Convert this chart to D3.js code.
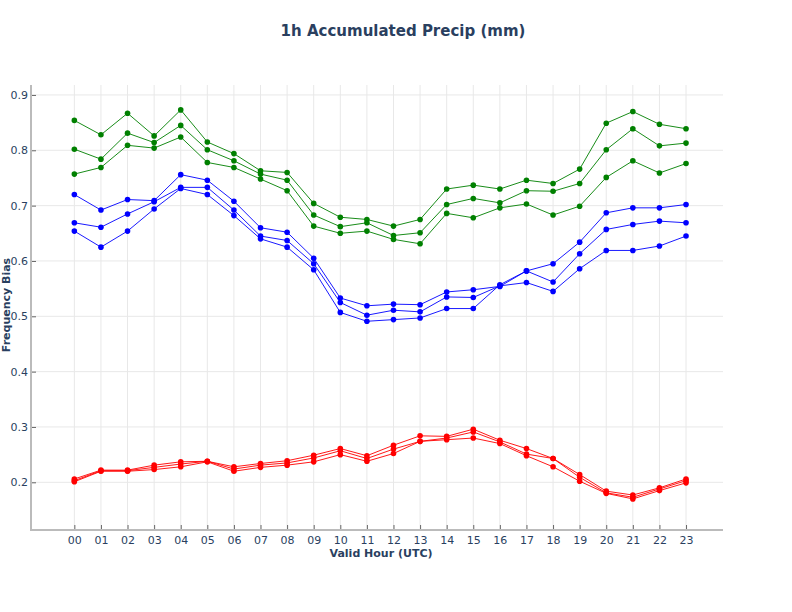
<!DOCTYPE html>
<html>
<head>
<meta charset="utf-8">
<script src="https://cdn.jsdelivr.net/npm/d3@7"></script>
<style>
  html, body { margin: 0; padding: 0; background: #fff; }
  svg { display: block; font-family: "DejaVu Sans", Verdana, sans-serif; }
</style>
</head>
<body>
<svg id="chart" width="792" height="612"></svg>
<script>
const hours = ["00","01","02","03","04","05","06","07","08","09","10","11","12","13","14","15","16","17","18","19","20","21","22","23"];
const yTicks = [0.2, 0.3, 0.4, 0.5, 0.6, 0.7, 0.8, 0.9];

const green1 = [0.854,0.828,0.867,0.826,0.873,0.815,0.794,0.763,0.760,0.704,0.679,0.675,0.663,0.675,0.730,0.737,0.730,0.746,0.740,0.766,0.849,0.870,0.847,0.839];
const green2 = [0.802,0.784,0.831,0.814,0.845,0.801,0.781,0.757,0.746,0.683,0.662,0.669,0.646,0.651,0.702,0.713,0.705,0.727,0.726,0.740,0.801,0.839,0.808,0.813];
const green3 = [0.757,0.769,0.809,0.804,0.824,0.778,0.769,0.748,0.727,0.663,0.650,0.654,0.639,0.631,0.686,0.678,0.696,0.703,0.683,0.699,0.751,0.781,0.759,0.776];

const blue1 = [0.720,0.692,0.711,0.709,0.756,0.746,0.708,0.660,0.652,0.605,0.533,0.519,0.522,0.521,0.544,0.548,0.554,0.582,0.595,0.634,0.687,0.696,0.696,0.702];
const blue2 = [0.669,0.661,0.685,0.707,0.733,0.733,0.692,0.645,0.637,0.595,0.525,0.502,0.511,0.508,0.535,0.534,0.555,0.561,0.545,0.586,0.619,0.619,0.627,0.645];
const blue3 = [0.654,0.625,0.654,0.694,0.731,0.720,0.682,0.640,0.625,0.584,0.507,0.491,0.494,0.497,0.514,0.514,0.557,0.582,0.562,0.613,0.657,0.666,0.672,0.669];

const red1 = [0.206,0.222,0.222,0.231,0.237,0.238,0.228,0.234,0.239,0.249,0.261,0.248,0.267,0.284,0.283,0.296,0.276,0.261,0.243,0.214,0.184,0.177,0.190,0.206];
const red2 = [0.203,0.221,0.221,0.227,0.233,0.238,0.224,0.231,0.235,0.244,0.257,0.243,0.260,0.274,0.280,0.291,0.273,0.251,0.243,0.209,0.181,0.173,0.188,0.203];
const red3 = [0.201,0.220,0.220,0.223,0.228,0.237,0.220,0.227,0.231,0.237,0.250,0.238,0.252,0.274,0.277,0.280,0.270,0.248,0.228,0.202,0.180,0.170,0.185,0.199];

const seriesList = [
  { values: green1, color: "#008000" },
  { values: green2, color: "#008000" },
  { values: green3, color: "#008000" },
  { values: blue1, color: "#0000ff" },
  { values: blue2, color: "#0000ff" },
  { values: blue3, color: "#0000ff" },
  { values: red1, color: "#ff0000" },
  { values: red2, color: "#ff0000" },
  { values: red3, color: "#ff0000" }
];

(function () {
const svg = d3.select("#chart");
const pLeft = 31, pRight = 723, pTop = 85, pBottom = 530;
const textColor = "#2a3f5f";

const x = d3.scaleLinear().domain([-1.63, 24.39]).range([pLeft, pRight]);
const y = d3.scaleLinear().domain([0.1138, 0.918]).range([pBottom, pTop]);

// gridlines
const grid = svg.append("g");
grid.selectAll("line.v").data(hours).enter().append("line")
  .attr("x1", (d, i) => x(i)).attr("x2", (d, i) => x(i))
  .attr("y1", pTop).attr("y2", pBottom)
  .attr("stroke", "#e8e8e8").attr("stroke-width", 1);
grid.selectAll("line.h").data(yTicks).enter().append("line")
  .attr("x1", pLeft).attr("x2", pRight)
  .attr("y1", d => y(d)).attr("y2", d => y(d))
  .attr("stroke", "#e8e8e8").attr("stroke-width", 1);

// axes
const xAxis = d3.axisBottom(x).tickValues(d3.range(hours.length)).tickFormat(i => hours[i]).tickSizeInner(-5).tickSizeOuter(0).tickPadding(6);
const gx = svg.append("g").attr("transform", `translate(0,${pBottom})`).call(xAxis);
gx.select(".domain").remove();
gx.selectAll(".tick line").attr("stroke", "#666");
gx.selectAll(".tick text").attr("fill", textColor).attr("font-size", 11).attr("font-family", "DejaVu Sans");

const yAxis = d3.axisLeft(y).tickValues(yTicks).tickFormat(d3.format(".1f")).tickSizeInner(-5).tickSizeOuter(0).tickPadding(3);
const gy = svg.append("g").attr("transform", `translate(${pLeft},0)`).call(yAxis);
gy.select(".domain").remove();
gy.selectAll(".tick line").attr("stroke", "#666");
gy.selectAll(".tick text").attr("fill", textColor).attr("font-size", 11).attr("font-family", "DejaVu Sans");

svg.append("line").attr("x1", pLeft).attr("x2", pLeft).attr("y1", pTop).attr("y2", pBottom + 1)
  .attr("stroke", "#bbbbbb").attr("stroke-width", 2);
svg.append("line").attr("x1", pLeft - 1).attr("x2", pRight).attr("y1", pBottom).attr("y2", pBottom)
  .attr("stroke", "#bbbbbb").attr("stroke-width", 2);

// series
const line = d3.line().x((d, i) => x(i)).y(d => y(d));
const gs = svg.append("g");
seriesList.forEach(s => {
  gs.append("path").datum(s.values)
    .attr("d", line).attr("fill", "none")
    .attr("stroke", s.color).attr("stroke-width", 1).attr("stroke-opacity", 0.9);
  gs.append("g").selectAll("circle").data(s.values).enter().append("circle")
    .attr("cx", (d, i) => x(i)).attr("cy", d => y(d)).attr("r", 2.8)
    .attr("fill", s.color);
});

// titles
svg.append("text").attr("x", 403).attr("y", 36).attr("text-anchor", "middle")
  .attr("fill", textColor).attr("font-size", 15).attr("font-weight", "bold")
  .text("1h Accumulated Precip (mm)");
svg.append("text").attr("x", 381).attr("y", 557).attr("text-anchor", "middle")
  .attr("fill", textColor).attr("font-size", 11).attr("font-weight", "bold")
  .text("Valid Hour (UTC)");
svg.append("text").attr("transform", "translate(10,305) rotate(-90)").attr("text-anchor", "middle")
  .attr("fill", textColor).attr("font-size", 11).attr("font-weight", "bold")
  .text("Frequency Bias");
})();
</script>
</body>
</html>
